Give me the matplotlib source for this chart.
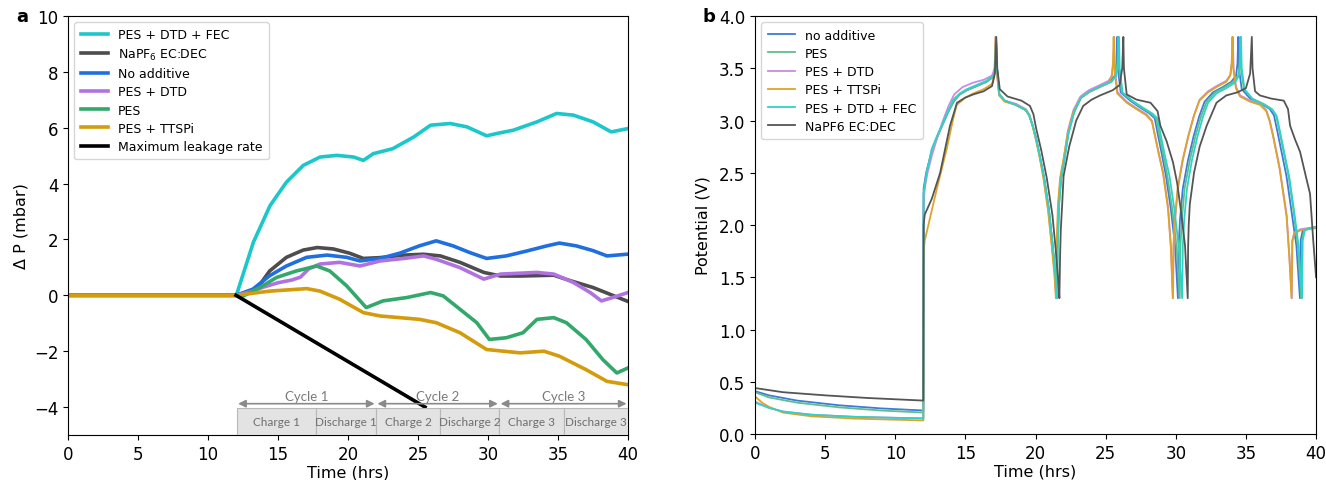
import matplotlib
matplotlib.use('Agg')
import matplotlib.pyplot as plt
from matplotlib.patches import Rectangle

plt.rcParams['font.family'] = ['DejaVu Sans']

# ---------------- Panel a : pressure change ----------------
fec_t = [0, 12, 12.05, 13.24, 14.43, 15.6, 16.8, 18.0, 19.2, 20.4, 21.1, 21.8, 23.2, 24.7, 25.9,
         27.3, 28.5, 29.9, 30.6, 31.8, 33.5, 34.9, 36.1, 37.5, 38.8, 40]
fec_p = [0, 0, 0.04, 1.9, 3.21, 4.05, 4.65, 4.95, 5.01, 4.95, 4.83, 5.07, 5.25, 5.67, 6.09,
         6.15, 6.03, 5.71, 5.79, 5.91, 6.21, 6.51, 6.45, 6.21, 5.85, 5.97]

napf_t = [0, 12, 13.2, 13.7, 14.4, 15.6, 16.8, 17.8, 18.95, 20.1, 21.1, 22.3, 24.0, 25.4, 26.6,
          28.0, 29.7, 30.9, 32.3, 34.7, 35.9, 37.5, 38.7, 39.9, 40]
napf_p = [0, 0, 0.1, 0.38, 0.87, 1.36, 1.62, 1.71, 1.66, 1.51, 1.32, 1.35, 1.44, 1.47, 1.41,
          1.18, 0.82, 0.69, 0.69, 0.72, 0.52, 0.28, 0.04, -0.2, -0.22]

noadd_t = [0, 12, 13.2, 14.4, 15.6, 17.05, 18.5, 19.9, 20.86, 22.3, 23.7, 25.1, 26.3, 27.5, 28.7,
           29.9, 31.3, 32.8, 34.2, 35.1, 36.3, 37.5, 38.5, 39.9, 40]
noadd_p = [0, 0, 0.22, 0.7, 1.05, 1.36, 1.44, 1.36, 1.23, 1.32, 1.51, 1.77, 1.95, 1.77, 1.53,
           1.32, 1.41, 1.59, 1.77, 1.87, 1.77, 1.6, 1.41, 1.47, 1.47]

dtd_t = [0, 12, 13.0, 14.0, 15.0, 16.0, 16.6, 17.2, 18.0, 19.4, 20.86, 22.3, 24.0, 25.4, 26.3,
         28.0, 29.7, 30.9, 33.5, 34.7, 36.1, 37.3, 38.1, 38.9, 40]
dtd_p = [0, 0, 0.12, 0.3, 0.45, 0.55, 0.65, 0.95, 1.12, 1.18, 1.05, 1.23, 1.32, 1.41, 1.29,
         0.99, 0.58, 0.76, 0.82, 0.76, 0.46, 0.1, -0.2, -0.08, 0.1]

pes_t = [0, 12, 12.3, 13.7, 14.9, 16.3, 17.76, 18.7, 19.9, 21.3, 22.5, 24.2, 25.9, 26.8, 28.0,
         29.2, 30.1, 31.3, 32.5, 33.5, 34.7, 35.6, 37.0, 38.2, 39.2, 40]
pes_p = [0, 0, -0.08, 0.28, 0.64, 0.87, 1.05, 0.87, 0.34, -0.44, -0.2, -0.08, 0.1, -0.02, -0.5,
         -0.98, -1.58, -1.52, -1.34, -0.86, -0.8, -0.98, -1.58, -2.3, -2.78, -2.6]

ttspi_t = [0, 12, 14.4, 17.05, 18.0, 19.4, 21.1, 22.3, 25.1, 26.3, 28.0, 29.9, 32.3, 34.0, 35.1,
           37.0, 38.5, 40]
ttspi_p = [0, 0, 0.15, 0.24, 0.15, -0.14, -0.62, -0.74, -0.86, -0.98, -1.34, -1.94, -2.06, -2.0,
           -2.18, -2.66, -3.08, -3.2]

leak_t = [12, 25.5]
leak_p = [0, -4.0]

phase_edges = [12.05, 17.7, 22.0, 26.6, 30.8, 35.45, 40.0]
phase_labels = ['Charge 1', 'Discharge 1', 'Charge 2', 'Discharge 2', 'Charge 3', 'Discharge 3']
cycle_edges = [12.05, 22.0, 30.8, 40.0]
cycle_labels = ['Cycle 1', 'Cycle 2', 'Cycle 3']

# ---------------- Panel b : potential ----------------
b_noadd_t = [0, 1, 3, 6, 9, 12.0, 12.02, 12.2, 12.6, 13.0, 13.4, 13.8, 14.2, 14.6, 15.1, 15.8, 16.5, 17.0, 17.12, 17.18,
             17.25, 17.42, 17.8, 18.6, 19.3, 19.55, 19.8, 20.05, 20.3, 20.6, 20.95, 21.2, 21.4, 21.5,
             21.56, 21.66, 21.81, 22.03, 22.33, 22.73, 23.23, 23.85, 24.65, 25.3, 25.65, 25.77, 25.82,
             25.87, 26.07, 26.75, 27.5, 28.1, 28.5, 28.7, 29.0, 29.3, 29.65, 29.95, 30.15,
             30.2, 30.3, 30.5, 30.87, 31.27, 31.67, 32.05, 32.65, 33.35, 33.95, 34.3, 34.4, 34.45,
             34.5, 34.7, 35.3, 36.1, 36.7, 37.0, 37.25, 37.6, 37.9, 38.25, 38.6, 38.85,
             38.9, 39.05, 39.5, 40]
b_noadd_v = [0.41, 0.37, 0.32, 0.275, 0.245, 0.225, 2.35, 2.5, 2.71, 2.85, 2.97, 3.09, 3.19, 3.25, 3.29, 3.33, 3.37, 3.42, 3.5, 3.8,
             3.5, 3.25, 3.19, 3.15, 3.1, 3.05, 2.95, 2.82, 2.66, 2.46, 2.15, 1.83, 1.55, 1.3,
             1.8, 2.2, 2.45, 2.62, 2.88, 3.08, 3.22, 3.28, 3.33, 3.37, 3.43, 3.55, 3.8,
             3.5, 3.27, 3.19, 3.12, 3.07, 3.02, 2.88, 2.68, 2.47, 2.15, 1.8, 1.3,
             1.8, 2.05, 2.35, 2.62, 2.85, 3.04, 3.18, 3.27, 3.32, 3.37, 3.43, 3.55, 3.8,
             3.5, 3.3, 3.21, 3.16, 3.11, 3.05, 2.89, 2.66, 2.46, 2.13, 1.8, 1.3,
             1.85, 1.95, 1.97, 1.98]

b_pes_t = [0, 1, 3, 6, 9, 12.0, 12.02, 12.2, 12.6, 13.0, 13.4, 13.8, 14.2, 14.6, 15.1, 15.8, 16.5, 17.0, 17.12, 17.18,
           17.25, 17.42, 17.8, 18.6, 19.3, 19.55, 19.8, 20.05, 20.3, 20.6, 20.95, 21.2, 21.4, 21.52,
           21.58, 21.68, 21.83, 22.05, 22.35, 22.75, 23.25, 23.9, 24.7, 25.4, 25.72, 25.84, 25.9,
           25.95, 26.15, 26.85, 27.6, 28.2, 28.6, 28.8, 29.1, 29.4, 29.75, 30.05, 30.28,
           30.33, 30.43, 30.63, 31.0, 31.4, 31.8, 32.2, 32.8, 33.5, 34.1, 34.45, 34.55, 34.6,
           34.65, 34.85, 35.45, 36.25, 36.85, 37.15, 37.4, 37.75, 38.05, 38.4, 38.7, 38.95,
           39.0, 39.15, 39.6, 40]
b_pes_v = [0.40, 0.35, 0.30, 0.255, 0.225, 0.205, 2.3, 2.48, 2.7, 2.84, 2.97, 3.09, 3.19, 3.25, 3.29, 3.33, 3.37, 3.42, 3.5, 3.8,
           3.5, 3.25, 3.19, 3.15, 3.1, 3.05, 2.95, 2.82, 2.66, 2.46, 2.15, 1.83, 1.55, 1.3,
           1.8, 2.2, 2.45, 2.62, 2.88, 3.08, 3.22, 3.28, 3.33, 3.37, 3.43, 3.55, 3.8,
           3.5, 3.27, 3.19, 3.12, 3.07, 3.02, 2.88, 2.68, 2.47, 2.15, 1.8, 1.3,
           1.8, 2.05, 2.35, 2.62, 2.85, 3.04, 3.18, 3.27, 3.32, 3.37, 3.43, 3.55, 3.8,
           3.5, 3.3, 3.21, 3.16, 3.11, 3.05, 2.89, 2.66, 2.46, 2.13, 1.8, 1.3,
           1.85, 1.95, 1.97, 1.98]

b_dtd_t = [0, 1, 2, 4, 7, 10, 12.0, 12.02, 12.1, 12.3, 12.6, 13.0, 13.4, 13.8, 14.2, 14.8, 15.5, 16.3, 16.9, 17.08, 17.15,
           17.22, 17.4, 17.8, 18.6, 19.3, 19.55, 19.8, 20.05, 20.3, 20.56, 20.9, 21.15, 21.35, 21.47,
           21.53, 21.63, 21.78, 22.0, 22.3, 22.7, 23.2, 23.8, 24.6, 25.2, 25.45, 25.55, 25.6,
           25.65, 25.85, 26.5, 27.3, 27.9, 28.3, 28.5, 28.8, 29.1, 29.45, 29.65, 29.8,
           29.85, 29.95, 30.15, 30.5, 30.9, 31.3, 31.7, 32.3, 32.9, 33.6, 33.9, 34.0, 34.06,
           34.12, 34.3, 34.6, 35.3, 36.0, 36.45, 36.7, 36.95, 37.4, 37.9, 38.1, 38.27,
           38.32, 38.45, 38.9, 40]
b_dtd_v = [0.31, 0.25, 0.215, 0.185, 0.165, 0.155, 0.15, 2.2, 2.35, 2.5, 2.66, 2.84, 3.0, 3.14, 3.25, 3.32, 3.36, 3.39, 3.43, 3.5, 3.8,
           3.5, 3.25, 3.19, 3.16, 3.11, 3.06, 2.95, 2.82, 2.66, 2.47, 2.15, 1.83, 1.55, 1.3,
           1.8, 2.2, 2.45, 2.62, 2.9, 3.1, 3.23, 3.29, 3.34, 3.38, 3.43, 3.55, 3.8,
           3.5, 3.27, 3.18, 3.11, 3.06, 3.0, 2.87, 2.68, 2.5, 2.17, 1.8, 1.3,
           1.8, 2.05, 2.35, 2.62, 2.85, 3.05, 3.2, 3.28, 3.33, 3.38, 3.44, 3.55, 3.8,
           3.5, 3.32, 3.24, 3.19, 3.16, 3.1, 3.0, 2.85, 2.55, 2.1, 1.7, 1.3,
           1.85, 1.93, 1.96, 1.98]

b_ttspi_t = [0, 0.5, 1, 2, 4, 7, 10, 12.0, 12.02, 12.1, 12.36, 12.95, 13.67, 14.1, 14.38, 15.0, 15.57, 16.3, 16.9, 17.08, 17.15,
             17.22, 17.4, 17.8, 18.6, 19.3, 19.55, 19.8, 20.05, 20.3, 20.56, 20.9, 21.15, 21.35, 21.45,
             21.5, 21.6, 21.75, 21.98, 22.3, 22.7, 23.2, 23.8, 24.6, 25.2, 25.42, 25.52, 25.57,
             25.62, 25.82, 26.5, 27.3, 27.9, 28.3, 28.5, 28.8, 29.1, 29.45, 29.65, 29.78,
             29.83, 29.93, 30.13, 30.48, 30.88, 31.28, 31.68, 32.3, 32.9, 33.6, 33.88, 33.98, 34.04,
             34.1, 34.28, 34.58, 35.3, 36.0, 36.45, 36.7, 36.95, 37.4, 37.9, 38.1, 38.25,
             38.3, 38.45, 38.9, 40]
b_ttspi_v = [0.36, 0.30, 0.26, 0.205, 0.17, 0.148, 0.137, 0.13, 1.75, 1.85, 2.0, 2.34, 2.73, 3.0, 3.15, 3.22, 3.26, 3.3, 3.35, 3.45, 3.8,
             3.5, 3.24, 3.18, 3.15, 3.1, 3.05, 2.94, 2.8, 2.64, 2.45, 2.13, 1.8, 1.52, 1.3,
             1.8, 2.2, 2.45, 2.62, 2.88, 3.08, 3.21, 3.27, 3.32, 3.36, 3.42, 3.55, 3.8,
             3.5, 3.26, 3.17, 3.1, 3.05, 2.99, 2.86, 2.67, 2.49, 2.15, 1.78, 1.3,
             1.8, 2.05, 2.35, 2.62, 2.85, 3.04, 3.19, 3.27, 3.32, 3.37, 3.43, 3.55, 3.8,
             3.5, 3.31, 3.23, 3.18, 3.15, 3.09, 2.99, 2.84, 2.54, 2.08, 1.68, 1.3,
             1.85, 1.92, 1.95, 1.97]

b_fec_t = [0, 1, 2, 4, 7, 10, 12.0, 12.02, 12.24, 12.6, 13.0, 13.4, 13.8, 14.14, 14.6, 15.1, 15.8, 16.5, 17.0, 17.12, 17.18,
           17.25, 17.42, 17.8, 18.6, 19.3, 19.55, 19.8, 20.05, 20.3, 20.6, 20.95, 21.2, 21.4, 21.52,
           21.58, 21.68, 21.83, 22.05, 22.35, 22.75, 23.25, 23.9, 24.7, 25.4, 25.75, 25.88, 25.95,
           26.0, 26.2, 26.9, 27.7, 28.3, 28.7, 28.9, 29.2, 29.55, 29.9, 30.2, 30.45,
           30.5, 30.6, 30.8, 31.15, 31.55, 31.95, 32.3, 32.9, 33.6, 34.2, 34.5, 34.6, 34.65,
           34.7, 34.9, 35.5, 36.3, 36.9, 37.2, 37.45, 37.8, 38.1, 38.45, 38.75, 39.0,
           39.05, 39.2, 39.6, 40]
b_fec_v = [0.30, 0.25, 0.215, 0.185, 0.165, 0.155, 0.15, 2.3, 2.5, 2.73, 2.86, 2.98, 3.1, 3.2, 3.26, 3.3, 3.34, 3.38, 3.43, 3.5, 3.8,
           3.5, 3.25, 3.19, 3.15, 3.1, 3.05, 2.95, 2.82, 2.66, 2.46, 2.15, 1.83, 1.55, 1.3,
           1.8, 2.2, 2.45, 2.62, 2.88, 3.08, 3.22, 3.28, 3.33, 3.37, 3.43, 3.55, 3.8,
           3.5, 3.27, 3.19, 3.12, 3.07, 3.02, 2.88, 2.68, 2.47, 2.15, 1.8, 1.3,
           1.8, 2.05, 2.35, 2.62, 2.85, 3.04, 3.17, 3.26, 3.31, 3.36, 3.43, 3.55, 3.8,
           3.5, 3.3, 3.2, 3.15, 3.1, 3.04, 2.88, 2.65, 2.45, 2.12, 1.8, 1.3,
           1.85, 1.95, 1.97, 1.98]

b_napf_t = [0, 2, 5, 8, 12.0, 12.02, 12.1, 12.6, 13.2, 13.9, 14.4, 15.0, 15.57, 16.3, 16.9, 17.1, 17.2,
            17.27, 17.45, 18.0, 19.0, 19.6, 19.85, 20.05, 20.4, 20.8, 21.2, 21.45, 21.6, 21.7,
            21.75, 21.8, 21.9, 22.0, 22.4, 22.9, 23.4, 24.0, 24.6, 25.5, 26.0, 26.18, 26.26,
            26.3, 26.5, 27.2, 28.2, 28.7, 28.9, 29.35, 29.8, 30.1, 30.4, 30.66, 30.85,
            30.88, 30.92, 31.0, 31.3, 31.7, 32.2, 32.9, 33.6, 34.4, 35.0, 35.3, 35.42,
            35.47, 35.65, 36.0, 36.8, 37.7, 38.0, 38.15, 38.5, 38.86, 39.3, 39.57, 39.8, 40.0]
b_napf_v = [0.44, 0.40, 0.37, 0.345, 0.32, 2.0, 2.1, 2.25, 2.5, 2.95, 3.17, 3.22, 3.25, 3.28, 3.33, 3.45, 3.8,
            3.5, 3.3, 3.23, 3.19, 3.14, 3.06, 2.92, 2.72, 2.45, 2.1, 1.75, 1.5, 1.3,
            1.7, 1.95, 2.2, 2.47, 2.75, 3.0, 3.14, 3.2, 3.24, 3.29, 3.34, 3.5, 3.8,
            3.5, 3.25, 3.2, 3.17, 3.09, 2.95, 2.8, 2.6, 2.4, 2.1, 1.8, 1.3,
            1.8, 2.0, 2.2, 2.5, 2.75, 2.95, 3.17, 3.24, 3.27, 3.31, 3.45, 3.8,
            3.5, 3.28, 3.24, 3.21, 3.19, 3.11, 2.95, 2.82, 2.7, 2.45, 2.3, 1.85, 1.5]

# ---------------- Figure ----------------
fig = plt.figure(figsize=(13.26, 4.81), dpi=100)
axa = fig.add_axes([0.0513, 0.0936, 0.4223, 0.8711])
axb = fig.add_axes([0.5694, 0.0956, 0.4231, 0.8690])

lw_a = 2.6
axa.plot(fec_t, fec_p, color='#1cc7c9', lw=lw_a, label='PES + DTD + FEC')
axa.plot(napf_t, napf_p, color='#4d4d4d', lw=lw_a, label='NaPF$_6$ EC:DEC')
axa.plot(noadd_t, noadd_p, color='#1f6fe0', lw=lw_a, label='No additive')
axa.plot(dtd_t, dtd_p, color='#b072e0', lw=lw_a, label='PES + DTD')
axa.plot(pes_t, pes_p, color='#33a86b', lw=lw_a, label='PES')
axa.plot(ttspi_t, ttspi_p, color='#d49b0b', lw=lw_a, label='PES + TTSPi')
axa.plot(leak_t, leak_p, color='black', lw=lw_a, label='Maximum leakage rate')

# phase boxes
for i, lab in enumerate(phase_labels):
    x0, x1 = phase_edges[i], phase_edges[i + 1]
    axa.add_patch(Rectangle((x0, -5.0), x1 - x0, 0.95, facecolor='#e3e3e3',
                            edgecolor='#b8b8b8', lw=0.8, zorder=5))
    axa.text((x0 + x1) / 2, -4.53, lab, ha='center', va='center', fontsize=8.5,
             color='#6e6e6e', family=['Lato', 'DejaVu Sans'], zorder=6)
for i, lab in enumerate(cycle_labels):
    x0, x1 = cycle_edges[i], cycle_edges[i + 1]
    axa.annotate('', xy=(x1 - 0.1, -3.88), xytext=(x0 + 0.1, -3.88),
                 arrowprops=dict(arrowstyle='<|-|>', color='#8a8a8a', lw=1.2,
                                 mutation_scale=11, shrinkA=0, shrinkB=0), zorder=6)
    axa.text((x0 + x1) / 2, -3.6, lab, ha='center', va='center', fontsize=9.5,
             color='#7a7a7a', family=['Lato', 'DejaVu Sans'], zorder=6)

axa.set_xlim(0, 40)
axa.set_ylim(-5, 10)
axa.set_xticks(range(0, 41, 5))
axa.set_yticks(range(-4, 11, 2))
axa.tick_params(labelsize=12)
axa.set_xlabel('Time (hrs)', fontsize=11.5, labelpad=1)
axa.set_ylabel('Δ P (mbar)', fontsize=11.5, labelpad=4)
axa.legend(loc='upper left', fontsize=9, handlelength=2.2, borderpad=0.5,
           labelspacing=0.42)

lw_b = 1.3
axb.plot(b_noadd_t, b_noadd_v, color='#3d7bdb', lw=lw_b, label='no additive')
axb.plot(b_pes_t, b_pes_v, color='#5dbf8c', lw=lw_b, label='PES')
axb.plot(b_dtd_t, b_dtd_v, color='#c48de6', lw=lw_b, label='PES + DTD')
axb.plot(b_ttspi_t, b_ttspi_v, color='#dea32a', lw=lw_b, label='PES + TTSPi')
axb.plot(b_fec_t, b_fec_v, color='#2fd3c6', lw=lw_b, label='PES + DTD + FEC')
axb.plot(b_napf_t, b_napf_v, color='#555555', lw=lw_b, label='NaPF6 EC:DEC')

axb.set_xlim(0, 40)
axb.set_ylim(0, 4)
axb.set_xticks(range(0, 41, 5))
axb.set_yticks([0, 0.5, 1.0, 1.5, 2.0, 2.5, 3.0, 3.5, 4.0])
axb.set_yticklabels(['0.0', '0.5', '1.0', '1.5', '2.0', '2.5', '3.0', '3.5', '4.0'])
axb.tick_params(labelsize=12)
axb.set_xlabel('Time (hrs)', fontsize=11.5, labelpad=1)
axb.set_ylabel('Potential (V)', fontsize=11.5, labelpad=6)
axb.legend(loc='upper left', fontsize=9, handlelength=2.2, borderpad=0.5,
           labelspacing=0.42)

fig.text(16 / 1326, 1 - 17 / 481, 'a', fontsize=13, fontweight='bold', va='center', ha='left')
fig.text(703 / 1326, 1 - 17 / 481, 'b', fontsize=13, fontweight='bold', va='center', ha='left')

fig.savefig('out.png', dpi=100)
